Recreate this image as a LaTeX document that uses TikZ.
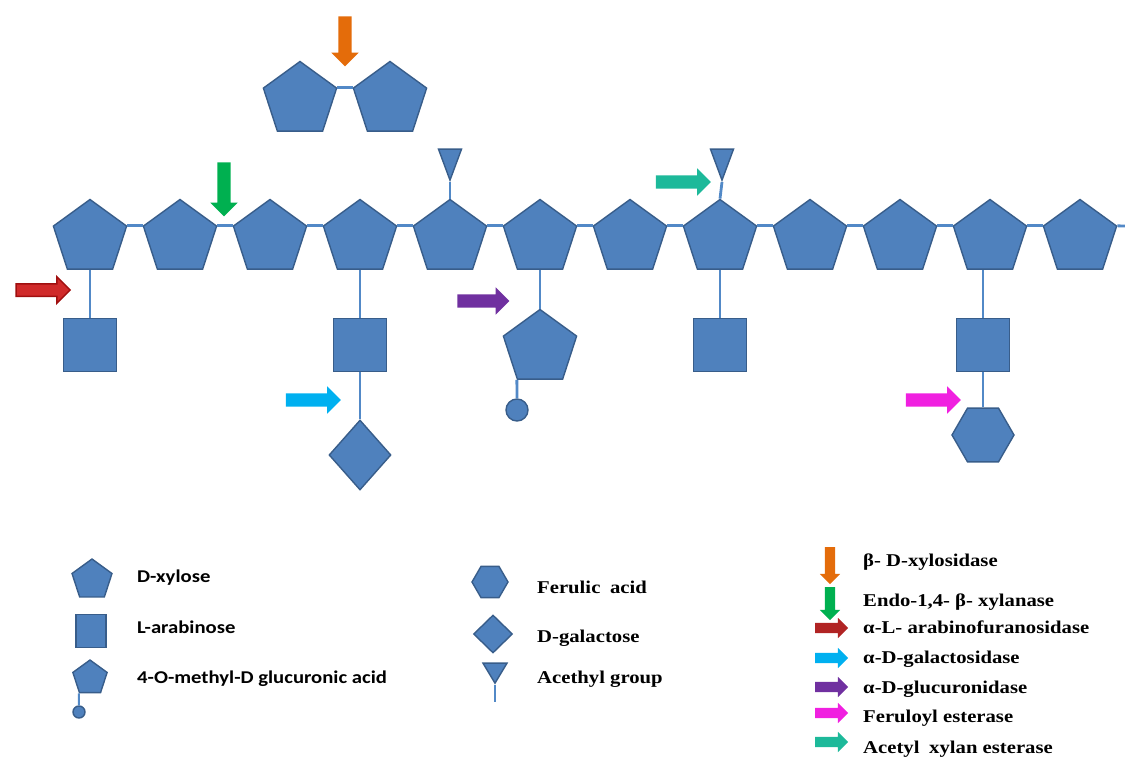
\documentclass[tikz,border=0pt]{standalone}
\usepackage{fontspec}
\newfontfamily\legsans{Carlito}[FakeStretch=1.15]
\newfontfamily\legserif{Liberation Serif}[FakeStretch=1.15]
\usetikzlibrary{shapes.geometric,shapes.arrows}

\definecolor{xylfill}{HTML}{4F81BD}
\definecolor{xyldraw}{HTML}{385D8A}
\definecolor{bondblue}{HTML}{5289C7}
\definecolor{enzorange}{HTML}{E46C0A}
\definecolor{enzgreen}{HTML}{00B050}
\definecolor{enzred}{HTML}{D02A2A}
\definecolor{enzredline}{HTML}{A00F0F}
\definecolor{enzcyan}{HTML}{00B0F0}
\definecolor{enzpurple}{HTML}{7030A0}
\definecolor{enzmagenta}{HTML}{F020E0}
\definecolor{enzteal}{HTML}{1DB99A}

\begin{document}
\begin{tikzpicture}
  [x=1pt, y=-1pt]
  \tikzstyle{sugar} = [fill=xylfill, draw=xyldraw, line width=1.4pt, inner sep=0pt];
  \tikzstyle{xyl} = [sugar, regular polygon, regular polygon sides=5, minimum size=77pt];
  \tikzstyle{ara} = [sugar, rectangle, minimum size=53pt];
  \tikzstyle{gal} = [sugar, diamond, minimum width=62pt, minimum height=70pt];
  \tikzstyle{fer} = [sugar, regular polygon, regular polygon sides=6, minimum size=62pt];
  \tikzstyle{mgr} = [sugar, circle, minimum size=22pt];
  \tikzstyle{acet} = [sugar, isosceles triangle, isosceles triangle stretches, shape border rotate=270, minimum width=23pt, minimum height=31pt, anchor=apex];
  \tikzstyle{bond} = [draw=bondblue, line width=2.8pt];
  \tikzstyle{enz} = [single arrow, minimum height=55pt, inner xsep=0pt, inner ysep=6.5pt, single arrow head extend=7pt, single arrow tip angle=90, single arrow head indent=0pt];
  \tikzstyle{enz_down} = [enz, shape border rotate=270, inner xsep=6.5pt, inner ysep=0pt];
  \tikzstyle{key} = [single arrow, minimum height=33pt, inner xsep=0pt, inner ysep=5pt, single arrow head extend=5pt, single arrow tip angle=90, single arrow head indent=0pt];
  \tikzstyle{key_down} = [key, shape border rotate=270, inner xsep=5pt, inner ysep=0pt];
  \tikzstyle{lab_sans} = [anchor=base west, inner sep=0pt, font=\legsans\bfseries\fontsize{18}{20}\selectfont];
  \tikzstyle{lab_serif} = [anchor=base west, inner sep=0pt, font=\legserif\bfseries\fontsize{18}{20}\selectfont];

  \useasboundingbox (0, 0) rectangle (1125, 757);

  % xylobiose
  \node[xyl] (t1) at (300, 100) {};
  \node[xyl] (t2) at (390, 100) {};
  \draw[bond] (t1.corner 5) -- (t2.corner 2);

  % backbone
  \node[xyl] (p1) at (90, 238) {};
  \node[xyl] (p2) at (180, 238) {};
  \node[xyl] (p3) at (270, 238) {};
  \node[xyl] (p4) at (360, 238) {};
  \node[xyl] (p5) at (450, 238) {};
  \node[xyl] (p6) at (540, 238) {};
  \node[xyl] (p7) at (630, 238) {};
  \node[xyl] (p8) at (720, 238) {};
  \node[xyl] (p9) at (810, 238) {};
  \node[xyl] (p10) at (900, 238) {};
  \node[xyl] (p11) at (990, 238) {};
  \node[xyl] (p12) at (1080, 238) {};
  \coordinate (pend) at (1125, 226);

  \draw[bond] (p1.corner 5) -- (p2.corner 2);
  \draw[bond] (p2.corner 5) -- (p3.corner 2);
  \draw[bond] (p3.corner 5) -- (p4.corner 2);
  \draw[bond] (p4.corner 5) -- (p5.corner 2);
  \draw[bond] (p5.corner 5) -- (p6.corner 2);
  \draw[bond] (p6.corner 5) -- (p7.corner 2);
  \draw[bond] (p7.corner 5) -- (p8.corner 2);
  \draw[bond] (p8.corner 5) -- (p9.corner 2);
  \draw[bond] (p9.corner 5) -- (p10.corner 2);
  \draw[bond] (p10.corner 5) -- (p11.corner 2);
  \draw[bond] (p11.corner 5) -- (p12.corner 2);
  \draw[bond] (p12.corner 5) -- (pend);

  % side groups
  \node[acet] (a1) at (450, 182) {};
  \node[acet] (a2) at (722, 182) {};
  \draw[bond] (p5.north) -- (a1.apex);
  \draw[bond] (p8.north) -- (a2.apex);

  \node[ara] (s1) at (90, 345) {};
  \node[ara] (s2) at (360, 345) {};
  \node[gal] (d1) at (360, 455) {};
  \node[xyl] (g1) at (540, 348) {};
  \node[mgr] (c1) at (517, 410) {};
  \node[ara] (s3) at (720, 345) {};
  \node[ara] (s4) at (983, 345) {};
  \node[fer] (h1) at (983, 435) {};

  \draw[bond] (p1.south) -- (s1.north);
  \draw[bond] (p4.south) -- (s2.north);
  \draw[bond] (s2.south) -- (d1.north);
  \draw[bond] (p6.south) -- (g1.north);
  \draw[bond] (g1.corner 3) -- (c1.north);
  \draw[bond] (p8.south) -- (s3.north);
  \draw[bond] (s4.north |- p11.south) -- (s4.north);
  \draw[bond] (s4.south) -- (h1.north);

  % enzymes
  \node[enz_down, fill=enzorange, minimum height=50pt] (e1) at (345, 38) {};
  \node[enz_down, fill=enzgreen, minimum height=54pt] (e2) at (224, 186) {};
  \node[enz, fill=enzteal] (e3) at (680, 182) {};
  \node[enz, fill=enzred, draw=enzredline, line width=1.5pt, inner ysep=5.5pt, minimum height=54pt] (e4) at (40, 290) {};
  \node[enz, fill=enzcyan] (e5) at (310, 400) {};
  \node[enz, fill=enzpurple, minimum height=52pt] (e6) at (480, 301) {};
  \node[enz, fill=enzmagenta] (e7) at (930, 400) {};

  % legend: residues
  \node[sugar, regular polygon, regular polygon sides=5, minimum size=42pt] (lk1) at (92, 580) {};
  \node[sugar, rectangle, minimum width=30pt, minimum height=33pt] (lk2) at (91, 631) {};
  \node[sugar, regular polygon, regular polygon sides=5, minimum size=36pt] (lk3) at (90, 678) {};
  \node[sugar, circle, minimum size=12pt] (lk3c) at (79, 712) {};
  \draw[bond, line width=2pt] (lk3.corner 3) -- (lk3c.north);

  \node[lab_sans] (lt1) at (137, 582) {D-xylose};
  \node[lab_sans] (lt2) at (137, 633) {L-arabinose};
  \node[lab_sans] (lt3) at (137, 683) {4-O-methyl-D glucuronic acid};

  \node[sugar, regular polygon, regular polygon sides=6, minimum size=36pt] (lk4) at (490, 582) {};
  \node[sugar, diamond, minimum width=39pt, minimum height=38pt] (lk5) at (493, 634) {};
  \node[sugar, isosceles triangle, isosceles triangle stretches, shape border rotate=270, minimum width=24pt, minimum height=20pt, anchor=apex] (lk6) at (495, 685) {};
  \coordinate (lk6end) at (495, 702);
  \draw[bond, line width=2pt] (lk6.apex) -- (lk6end);

  \node[lab_serif] (lt4) at (537, 593) {Ferulic\hspace{0.25em} acid};
  \node[lab_serif] (lt5) at (537, 642) {D-galactose};
  \node[lab_serif] (lt6) at (537, 683) {Acethyl group};

  % legend: enzymes
  \node[key_down, fill=enzorange, minimum height=37pt] (k1) at (830, 563) {};
  \node[key_down, fill=enzgreen] (k2) at (830, 601) {};
  \node[key, fill=enzred!85!black] (k3) at (829, 628) {};
  \node[key, fill=enzcyan] (k4) at (829, 658) {};
  \node[key, fill=enzpurple] (k5) at (829, 687) {};
  \node[key, fill=enzmagenta] (k6) at (829, 713) {};
  \node[key, fill=enzteal] (k7) at (829, 742) {};

  \node[lab_serif] (kt1) at (863, 566) {β- D-xylosidase};
  \node[lab_serif] (kt2) at (863, 606) {Endo-1,4- β- xylanase};
  \node[lab_serif] (kt3) at (863, 633) {α-L- arabinofuranosidase};
  \node[lab_serif] (kt4) at (863, 663) {α-D-galactosidase};
  \node[lab_serif] (kt5) at (863, 693) {α-D-glucuronidase};
  \node[lab_serif] (kt6) at (863, 722) {Feruloyl esterase};
  \node[lab_serif] (kt7) at (863, 753) {Acetyl\hspace{0.25em} xylan esterase};

\end{tikzpicture}
\end{document}
